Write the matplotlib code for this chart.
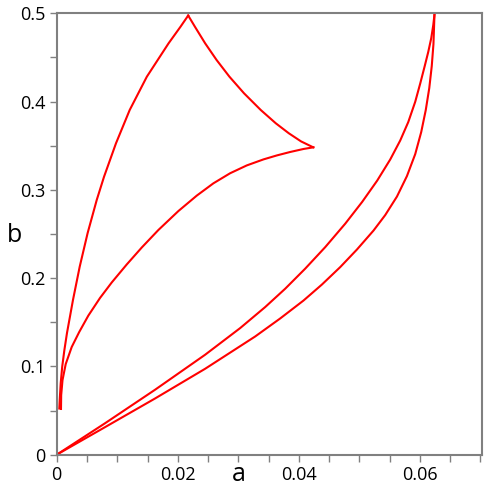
import matplotlib
matplotlib.use("Agg")
import matplotlib.pyplot as plt

# left curvilinear triangle: outer branch (bottom cusp -> top peak)
outer_a = [0.00043, 0.00050, 0.00066, 0.00091, 0.00127, 0.00170, 0.00269, 0.00380, 0.00511,
           0.00661, 0.00782, 0.00979, 0.01206, 0.01489, 0.01848, 0.02045, 0.02172]
outer_b = [0.0523, 0.0620, 0.0809, 0.0997, 0.1186, 0.1379, 0.1753, 0.2130, 0.2511,
           0.2885, 0.3149, 0.3527, 0.3905, 0.4282, 0.4660, 0.4848, 0.4975]

# top peak -> right cusp
upper_a = [0.02172, 0.02283, 0.02452, 0.02641, 0.02853, 0.03094, 0.03370, 0.03619,
           0.03834, 0.04036, 0.04237]
upper_b = [0.4975, 0.4848, 0.4660, 0.4471, 0.4282, 0.4094, 0.3905, 0.3754,
           0.3641, 0.3549, 0.3482]

# right cusp -> bottom cusp
inner_a = [0.04241, 0.04076, 0.03856, 0.03636, 0.03415, 0.03140, 0.02864, 0.02588, 0.02314,
           0.02010, 0.01679, 0.01405, 0.01157, 0.00909, 0.00716, 0.00522, 0.00372,
           0.00248, 0.00149, 0.00096, 0.00074, 0.00071]
inner_b = [0.3482, 0.3463, 0.3429, 0.3390, 0.3345, 0.3277, 0.3188, 0.3074, 0.2935,
           0.2760, 0.2545, 0.2347, 0.2155, 0.1951, 0.1776, 0.1575, 0.1390,
           0.1220, 0.1027, 0.0845, 0.0675, 0.0518]

# lens on the right, two branches from origin to the top
lens1_a = [0.0, 0.00798, 0.01625, 0.02451, 0.03030, 0.03443, 0.03774, 0.04104, 0.04435,
           0.04766, 0.05046, 0.05294, 0.05509, 0.05674, 0.05807, 0.05922, 0.06005,
           0.06079, 0.06137, 0.06187, 0.0622, 0.0624]
lens1_b = [0.0, 0.0356, 0.0736, 0.1132, 0.1434, 0.1672, 0.1880, 0.2107, 0.2351,
           0.2617, 0.2864, 0.3105, 0.3344, 0.3559, 0.3768, 0.3998, 0.4206,
           0.4403, 0.4562, 0.4720, 0.4867, 0.4986]
lens2_a = [0.0, 0.00798, 0.01625, 0.02451, 0.03278, 0.03691, 0.04076, 0.0438, 0.04683,
           0.04959, 0.05233, 0.05426, 0.0562, 0.05785, 0.05922, 0.06021, 0.06096,
           0.06154, 0.06195, 0.06223, 0.0624]
lens2_b = [0.0, 0.0312, 0.0637, 0.0973, 0.1339, 0.1543, 0.1746, 0.1927, 0.2125,
           0.2324, 0.2539, 0.2714, 0.2924, 0.3156, 0.3405, 0.3655, 0.3904,
           0.4153, 0.4402, 0.4651, 0.4986]

x_ticks = [0, 0.02, 0.04, 0.06]
x_labels = ["0", "0.02", "0.04", "0.06"]
y_ticks = [0, 0.1, 0.2, 0.3, 0.4, 0.5]
y_labels = ["0", "0.1", "0.2", "0.3", "0.4", "0.5"]

plt.rcParams["font.family"] = ["Open Sans", "DejaVu Sans"]

fig = plt.figure(figsize=(5, 5), dpi=100)
ax = fig.add_axes([0.1134, 0.0906, 0.85, 0.8828])

for xs, ys in [(outer_a, outer_b), (upper_a, upper_b), (inner_a, inner_b),
               (lens1_a, lens1_b), (lens2_a, lens2_b)]:
    ax.plot(xs, ys, color="#ff0000", lw=1.5, solid_joinstyle="round")

ax.set_xlim(0, 0.0702)
ax.set_ylim(0, 0.5)
ax.set_xticks(x_ticks)
ax.set_xticklabels(x_labels)
ax.set_yticks(y_ticks)
ax.set_yticklabels(y_labels)
ax.set_xticks([i * 0.005 for i in range(15)], minor=True)
ax.set_yticks([i * 0.05 for i in range(11)], minor=True)

grey = "#808080"
for s in ax.spines.values():
    s.set_color(grey)
    s.set_linewidth(1.5)
ax.tick_params(which="both", direction="out", length=5, width=1, color=grey,
               labelsize=13, labelcolor="black", pad=3)

ax.set_xlabel("a", fontsize=18, va="center")
ax.xaxis.set_label_coords(0.429, -0.045)
ax.set_ylabel("b", fontsize=18, rotation=0, ha="center", va="center")
ax.yaxis.set_label_coords(-0.100, 0.496)

fig.savefig("out.png", dpi=100)
